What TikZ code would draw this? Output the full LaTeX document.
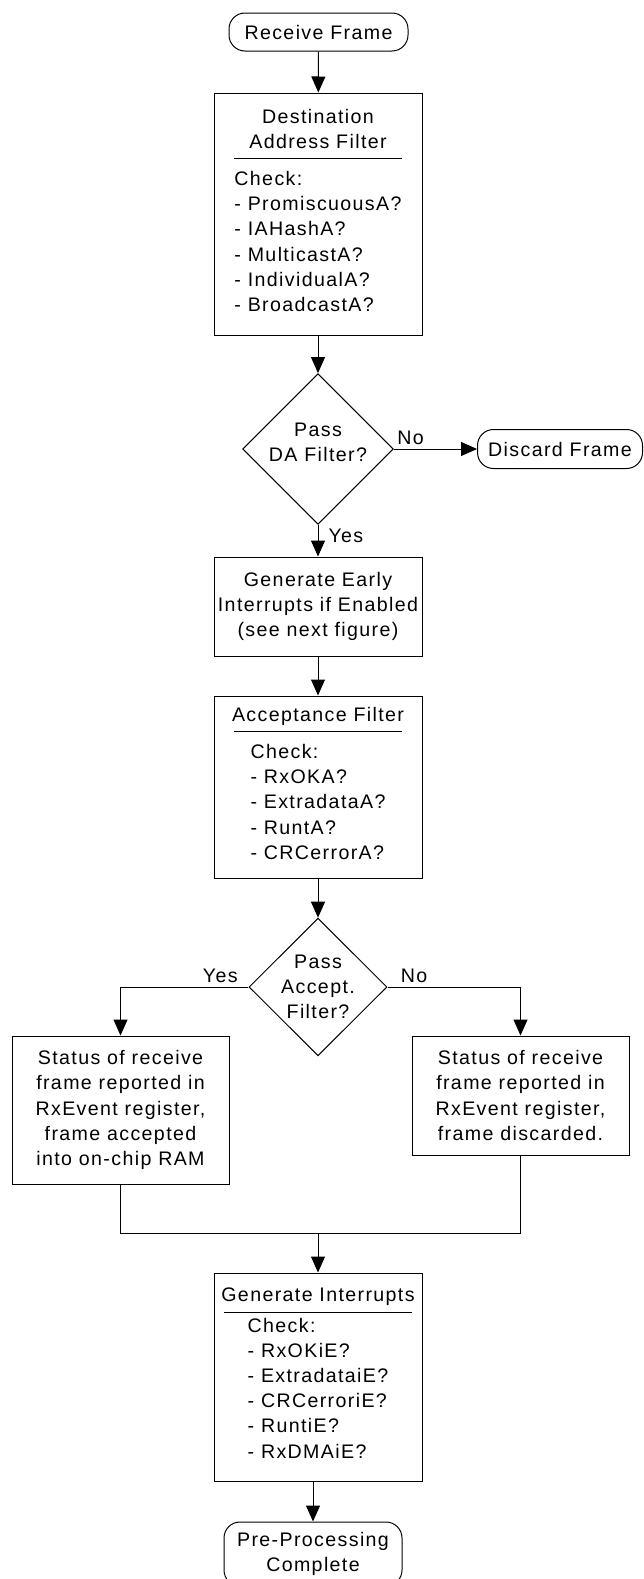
\documentclass[tikz,border=0pt]{standalone}
\usepackage{fontspec}
\setmainfont{Liberation Sans}[LetterSpace=7]
\usetikzlibrary{arrows.meta,shapes.geometric}
\tikzset{
  every node/.style={font=\fontsize{9.8}{12.6}\selectfont},
  terminal/.style={draw, rectangle, rounded corners=8pt, align=center, inner sep=2pt},
  procbox/.style={draw, rectangle, align=center, inner sep=1pt, minimum width=104pt},
  decision/.style={draw, diamond, aspect=1, align=center, inner sep=0pt},
  flow/.style={-{Triangle[length=8pt,width=7pt]}},
  lbl/.style={inner sep=2pt},
}
% header of a filter box, with the rule under it
\newcommand{\filterhead}[3][0.4pt]{#2\\[-7.1pt]\rule{#3}{0.5pt}\\[#1]}
\newcommand{\checkitems}[1]{\begin{tabular}[t]{@{}l@{}}#1\end{tabular}}

\begin{document}
\begin{tikzpicture}[x=0.5pt, y=-0.5pt, line width=0.5pt]
  \useasboundingbox (0,0) rectangle (643,1579);

  \node[terminal, minimum width=89.5pt, minimum height=19pt] (recv) at (318.5,32) {Receive Frame};
  \node[procbox, minimum height=121pt] (dafilter) at (318,214) {\filterhead{Destination\\Address Filter}{84pt}\checkitems{Check:\\- PromiscuousA?\\- IAHashA?\\- MulticastA?\\- IndividualA?\\- BroadcastA?}};
  \node[decision, minimum width=69.5pt, minimum height=68pt, text depth=7pt] (dapass) at (318,449) {Pass\\DA Filter?};
  \node[terminal, minimum width=82.5pt, minimum height=19.5pt] (discard) at (560,449) {Discard Frame};
  \node[procbox, minimum height=49.5pt] (early) at (318,606.5) {Generate Early\\Interrupts if Enabled\\(see next figure)};
  \node[procbox, minimum height=91pt] (accfilter) at (318,787) {\filterhead{Acceptance Filter}{84pt}\checkitems{Check:\\- RxOKA?\\- ExtradataA?\\- RuntA?\\- CRCerrorA?}};
  \node[decision, minimum width=69pt, minimum height=68pt] (accpass) at (318,987) {Pass\\Accept.\\Filter?};

  \node[procbox, minimum width=108.5pt, minimum height=74pt] (accepted) at (120.5,1110) {Status of receive\\frame reported in\\RxEvent register,\\frame accepted\\into on-chip RAM};
  \node[procbox, minimum width=108.5pt, minimum height=59.5pt] (rejected) at (520.5,1095.5) {Status of receive\\frame reported in\\RxEvent register,\\frame discarded.};
  \coordinate (merge) at (318,1233);

  \node[procbox, minimum height=104pt] (genint) at (318,1377) {\filterhead[-3pt]{Generate Interrupts}{94pt}\checkitems{Check:\\- RxOKiE?\\- ExtradataiE?\\- CRCerroriE?\\- RuntiE?\\- RxDMAiE?}};
  \node[terminal, minimum width=89pt, minimum height=32pt] (done) at (313,1554) {Pre-Processing\\Complete};

  \draw[flow] (recv) -- (dafilter);
  \draw[flow] (dafilter) -- (dapass);
  \draw[flow] (dapass) -- node[lbl, pos=0.2, above] {No} (discard);
  \draw[flow] (dapass) -- node[lbl, pos=0.35, right, xshift=3pt] {Yes} (early);
  \draw[flow] (early) -- (accfilter);
  \draw[flow] (accfilter) -- (accpass);
  \draw[flow] (accpass) -| node[lbl, pos=0.11, above] {Yes} (accepted);
  \draw[flow] (accpass) -| node[lbl, pos=0.1, above] {No} (rejected);
  \draw (accepted) |- (merge) -| (rejected);
  \draw[flow] (merge) -- (genint);
  \draw[flow] (genint.south -| done.north) -- (done);
\end{tikzpicture}
\end{document}
